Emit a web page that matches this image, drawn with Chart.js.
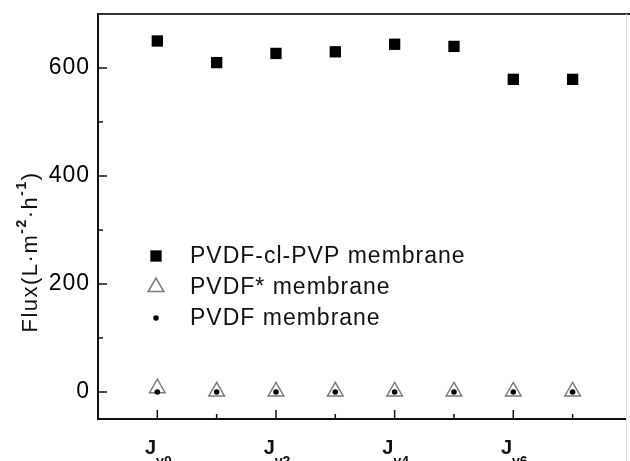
<!DOCTYPE html>
<html>
<head>
<meta charset="utf-8">
<script src="https://cdn.jsdelivr.net/npm/chart.js@4"></script>
<style>
  html, body { margin: 0; padding: 0; background: #fff; }
  #wrap { width: 630px; height: 461px; }
</style>
</head>
<body>
<div id="wrap"><canvas id="chartCanvas"></canvas></div>
<script>
// Messpunkte (Lauf-Index 0..7 -> Jv0..Jv7)
const runs = [0, 1, 2, 3, 4, 5, 6, 7];
const pvdfClPvp = [650, 610, 627, 630, 644, 640, 579, 579];
const pvdfStar = [7, 1, 1, 1, 1, 1, 1, 1];
const pvdf = [0, 0, 0, 0, 0, 0, 0, 0];

const seriesNames = ['PVDF-cl-PVP membrane', 'PVDF* membrane', 'PVDF membrane'];
const xMajorTicks = [0, 2, 4, 6];
const xMinorTicks = [1, 3, 5, 7];
const xTickSubs = ['v0', 'v2', 'v4', 'v6'];
const yMajorTicks = [0, 200, 400, 600];
const yMinorTicks = [100, 300, 500];

const ctx = document.getElementById('chartCanvas').getContext('2d');
const toPoints = arr => runs.map((r, i) => ({ x: r, y: arr[i] }));
const FAM = '"Liberation Sans", Arial, sans-serif';

// Achsen, Ticks, Legende und Titel selbst zeichnen
const decor = {
  id: 'decor',
  beforeDraw(chart) {
    chart.ctx.letterSpacing = '1px';
  },
  afterDraw(chart) {
    const c = chart.ctx;
    const a = chart.chartArea;
    const xs = chart.scales.x;
    const ys = chart.scales.y;
    c.save();

    // Rahmen oben / rechts
    c.strokeStyle = '#333';
    c.lineWidth = 2;
    c.beginPath();
    c.moveTo(a.left, a.top);
    c.lineTo(630, a.top);
    c.stroke();
    c.strokeStyle = '#ddd';
    c.lineWidth = 1;
    c.beginPath();
    c.moveTo(a.right + 0.5, a.top);
    c.lineTo(a.right + 0.5, 461);
    c.stroke();

    // Ticks nach innen
    c.strokeStyle = '#111';
    c.lineWidth = 1.5;
    c.beginPath();
    yMajorTicks.forEach(v => { const y = ys.getPixelForValue(v); c.moveTo(a.left, y); c.lineTo(a.left + 9, y); });
    yMinorTicks.forEach(v => { const y = ys.getPixelForValue(v); c.moveTo(a.left, y); c.lineTo(a.left + 5, y); });
    xMajorTicks.forEach(v => { const x = xs.getPixelForValue(v); c.moveTo(x, a.bottom); c.lineTo(x, a.bottom - 9); });
    xMinorTicks.forEach(v => { const x = xs.getPixelForValue(v); c.moveTo(x, a.bottom); c.lineTo(x, a.bottom - 5); });
    c.stroke();

    // x-Beschriftung J mit Index
    c.letterSpacing = '0px';
    c.fillStyle = '#111';
    c.textBaseline = 'alphabetic';
    xMajorTicks.forEach((v, i) => {
      const x = xs.getPixelForValue(v);
      c.font = 'bold 20px ' + FAM;
      const wJ = c.measureText('J').width;
      c.font = 'bold 14px ' + FAM;
      const wS = c.measureText(xTickSubs[i]).width;
      const x0 = x - (wJ + wS) / 2 + 1;
      c.font = 'bold 20px ' + FAM;
      c.fillText('J', x0, 454);
      c.font = 'bold 14px ' + FAM;
      c.fillText(xTickSubs[i], x0 + wJ, 466);
    });

    // y-Titel mit Hochzahlen
    const parts = [
      { t: 'Flux(L·m', sup: false },
      { t: '-2', sup: true },
      { t: '·h', sup: false },
      { t: '-1', sup: true },
      { t: ')', sup: false }
    ];
    c.letterSpacing = '1.5px';
    const mainFont = '22px ' + FAM;
    const supFont = 'bold 14px ' + FAM;
    let total = 0;
    parts.forEach(p => { c.font = p.sup ? supFont : mainFont; p.w = c.measureText(p.t).width; total += p.w; });
    c.translate(31, 252);
    c.rotate(-Math.PI / 2);
    c.textBaseline = 'middle';
    let px = -total / 2;
    parts.forEach(p => {
      c.font = p.sup ? supFont : mainFont;
      c.fillText(p.t, px, p.sup ? -9 : 0);
      px += p.w;
    });
    c.setTransform(1, 0, 0, 1, 0, 0);

    // Legende im Diagramm
    const rows = [256, 287, 318];
    c.letterSpacing = '1px';
    chart.data.datasets.forEach(ds => {
      const y = rows[ds.legendRow];
      c.fillStyle = ds.backgroundColor;
      c.strokeStyle = ds.borderColor;
      c.lineWidth = ds.borderWidth;
      Chart.helpers.drawPoint(c, {
        pointStyle: ds.pointStyle,
        radius: ds.pointRadius,
        rotation: 0,
        borderWidth: ds.borderWidth
      }, 156, y);
      c.fillStyle = '#111';
      c.font = '23px ' + FAM;
      c.textBaseline = 'middle';
      c.fillText(ds.label, 190, y + 1);
    });

    c.restore();
    c.letterSpacing = '0px';
  }
};

new Chart(ctx, {
  type: 'scatter',
  data: {
    datasets: [
      {
        label: seriesNames[0],
        data: toPoints(pvdfClPvp),
        pointStyle: 'rect',
        pointRadius: 8,
        backgroundColor: '#000',
        borderColor: '#000',
        borderWidth: 0,
        order: 0,
        legendRow: 0
      },
      {
        label: seriesNames[2],
        data: toPoints(pvdf),
        pointStyle: 'circle',
        pointRadius: 2.8,
        backgroundColor: '#000',
        borderColor: '#000',
        borderWidth: 0,
        order: 1,
        legendRow: 2
      },
      {
        label: seriesNames[1],
        data: toPoints(pvdfStar),
        pointStyle: 'triangle',
        pointRadius: 9,
        backgroundColor: 'rgba(0,0,0,0)',
        borderColor: '#7a7a7a',
        borderWidth: 1.5,
        order: 2,
        legendRow: 1
      }
    ]
  },
  options: {
    responsive: true,
    maintainAspectRatio: false,
    animation: false,
    layout: { autoPadding: false, padding: { top: 14, right: 4, left: 0, bottom: 0 } },
    plugins: { legend: { display: false }, tooltip: { enabled: false } },
    scales: {
      x: {
        type: 'linear',
        min: -1,
        max: 7.9,
        grid: { display: false, drawTicks: false },
        border: { display: true, color: '#111', width: 2 },
        ticks: { display: false },
        afterFit(scale) {
          scale.height = 42;
          scale.paddingLeft = 0;
          scale.paddingRight = 0;
        }
      },
      y: {
        min: -50,
        max: 700,
        grid: { display: false, drawTicks: false },
        border: { display: true, color: '#111', width: 2 },
        ticks: {
          color: '#000',
          padding: 8,
          font: { size: 23, family: FAM }
        },
        afterBuildTicks(scale) { scale.ticks = yMajorTicks.map(v => ({ value: v })); },
        afterFit(scale) {
          scale.width = 98;
          scale.paddingTop = 0;
          scale.paddingBottom = 0;
        }
      }
    }
  },
  plugins: [decor]
});
</script>
</body>
</html>
